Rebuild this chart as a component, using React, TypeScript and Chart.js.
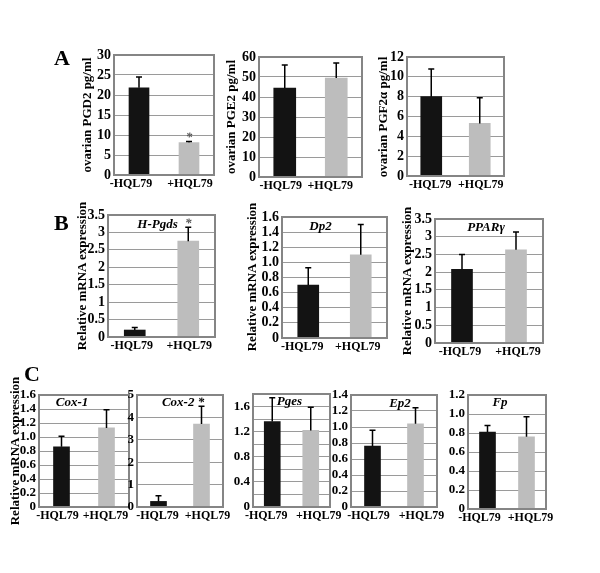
import React, { useEffect, useRef } from 'react';
import { Chart, registerables } from 'chart.js';
Chart.register(...registerables);

const categories = ['-HQL79', '+HQL79'];

// Panel A: ovarian prostaglandin levels (pg/ml)
const pgd2Mean = [21.8, 8.1];
const pgd2Err = [2.7, 0.3];
const pge2Mean = [44.5, 49.5];
const pge2Err = [11.5, 7.5];
const pgf2aMean = [8.0, 5.3];
const pgf2aErr = [2.8, 2.6];

// Panel B: relative mRNA expression
const hpgdsMean = [0.2, 2.75];
const hpgdsErr = [0.07, 0.4];
const dp2Mean = [0.7, 1.1];
const dp2Err = [0.23, 0.4];
const pparMean = [2.08, 2.63];
const pparErr = [0.42, 0.5];

// Panel C: relative mRNA expression
const cox1Mean = [0.86, 1.13];
const cox1Err = [0.15, 0.26];
const cox2Mean = [0.25, 3.7];
const cox2Err = [0.25, 0.8];
const pgesMean = [1.36, 1.22];
const pgesErr = [0.38, 0.37];
const ep2Mean = [0.76, 1.04];
const ep2Err = [0.2, 0.2];
const fpMean = [0.81, 0.76];
const fpErr = [0.07, 0.21];

const yTitlesA = ['ovarian PGD2 pg/ml', 'ovarian PGE2 pg/ml', 'ovarian PGF2\u03b1 pg/ml'];
const yTitleMRNA = 'Relative mRNA expression';

const SERIF = "'Liberation Serif', 'Times New Roman', serif";
const PT = 12;
const PR = 16;
const XH = 22;
const YW = 34;

type Fmt = 'plain' | 'dec1' | 'every2';

type Panel = {
  mean: number[];
  err: number[];
  max: number;
  step: number;
  fmt: Fmt;
  inner?: string;
  innerDx?: number;
  innerDy?: number;
  stars?: string[];
  rect: [number, number, number, number];
  bw: number;
  tick: number;
  xtick: number;
  xdx: [number, number];
};

const panels: Panel[] = [
  { mean: pgd2Mean, err: pgd2Err, max: 30, step: 5, fmt: 'plain', stars: ['', '*'], rect: [114, 55, 214, 175], bw: 20, tick: 14, xtick: 12, xdx: [-8, 1] },
  { mean: pge2Mean, err: pge2Err, max: 60, step: 10, fmt: 'plain', rect: [259, 57, 362, 177], bw: 22, tick: 14, xtick: 12, xdx: [-4, -6] },
  { mean: pgf2aMean, err: pgf2aErr, max: 12, step: 2, fmt: 'plain', rect: [407, 57, 504, 176], bw: 21, tick: 14, xtick: 12, xdx: [-1, 1] },
  { mean: hpgdsMean, err: hpgdsErr, max: 3.5, step: 0.5, fmt: 'plain', inner: 'H-Pgds', innerDx: -4, innerDy: 10, stars: ['', '*'], rect: [108, 215, 215, 337], bw: 21, tick: 14, xtick: 12, xdx: [-3, 1] },
  { mean: dp2Mean, err: dp2Err, max: 1.6, step: 0.2, fmt: 'dec1', inner: 'Dp2', innerDx: -14, innerDy: 10, rect: [282, 217, 387, 338], bw: 21, tick: 14, xtick: 12, xdx: [-6, -3] },
  { mean: pparMean, err: pparErr, max: 3.5, step: 0.5, fmt: 'plain', inner: 'PPAR\u03b3', innerDx: -3, innerDy: 9, rect: [435, 219, 543, 343], bw: 21, tick: 14, xtick: 12, xdx: [-2, 2] },
  { mean: cox1Mean, err: cox1Err, max: 1.6, step: 0.2, fmt: 'dec1', inner: 'Cox-1', innerDx: -12, innerDy: 8, rect: [39, 395, 129, 507], bw: 16, tick: 13, xtick: 12, xdx: [-4, -1] },
  { mean: cox2Mean, err: cox2Err, max: 5, step: 1, fmt: 'plain', inner: 'Cox-2 *', innerDx: 3, innerDy: 8, rect: [137, 395, 223, 507], bw: 16, tick: 13, xtick: 12, xdx: [-1, 6] },
  { mean: pgesMean, err: pgesErr, max: 1.8, step: 0.2, fmt: 'every2', inner: 'Pges', innerDx: -2, innerDy: 8, rect: [253, 394, 330, 507], bw: 16, tick: 13, xtick: 12, xdx: [-6, 8] },
  { mean: ep2Mean, err: ep2Err, max: 1.4, step: 0.2, fmt: 'dec1', inner: 'Ep2', innerDx: 6, innerDy: 9, rect: [351, 395, 437, 507], bw: 16, tick: 13, xtick: 12, xdx: [-4, 6] },
  { mean: fpMean, err: fpErr, max: 1.2, step: 0.2, fmt: 'dec1', inner: 'Fp', innerDx: -7, innerDy: 8, rect: [468, 395, 546, 509], bw: 16, tick: 13, xtick: 12, xdx: [-8, 4] },
];

// rotated y-axis titles: [text, centerX, centerY]
const yTitles: [string, number, number][] = [
  [yTitlesA[0], 87, 115],
  [yTitlesA[1], 231, 117],
  [yTitlesA[2], 383, 117],
  [yTitleMRNA, 82, 276],
  [yTitleMRNA, 252, 277],
  [yTitleMRNA, 407, 281],
  [yTitleMRNA, 15, 451],
];

function fmtTick(v: number, fmt: Fmt): string {
  const r = Math.round(v * 10) / 10;
  if (fmt === 'plain') return String(r);
  if (r === 0) return '0';
  if (fmt === 'every2') {
    const k = Math.round(r * 10);
    return k % 4 === 0 ? r.toFixed(1) : '';
  }
  return r.toFixed(1);
}

function makeDecor(p: Panel) {
  return {
    id: 'decor',
    afterDatasetsDraw(chart: any) {
      const ctx = chart.ctx;
      const area = chart.chartArea;
      const ys = chart.scales.y;
      const xs = chart.scales.x;
      const meta = chart.getDatasetMeta(0);
      ctx.save();
      ctx.strokeStyle = '#000';
      ctx.lineWidth = 1.5;
      meta.data.forEach((el: any, i: number) => {
        const top = ys.getPixelForValue(p.mean[i] + p.err[i]);
        ctx.beginPath();
        ctx.moveTo(el.x, el.y);
        ctx.lineTo(el.x, top);
        ctx.moveTo(el.x - 3, top);
        ctx.lineTo(el.x + 3, top);
        ctx.stroke();
        const s = p.stars ? p.stars[i] : '';
        if (s) {
          ctx.fillStyle = '#555';
          ctx.font = `italic bold 13px ${SERIF}`;
          ctx.textAlign = 'center';
          ctx.textBaseline = 'middle';
          ctx.fillText(s, el.x, top - 4);
        }
      });
      ctx.strokeStyle = '#858585';
      ctx.lineWidth = 2;
      ctx.strokeRect(area.left, area.top, area.right - area.left, area.bottom - area.top);
      if (p.inner) {
        ctx.fillStyle = '#000';
        ctx.font = `italic bold 13px ${SERIF}`;
        ctx.textAlign = 'center';
        ctx.textBaseline = 'middle';
        ctx.fillText(p.inner, (area.left + area.right) / 2 + (p.innerDx || 0), area.top + (p.innerDy || 9));
      }
      // category labels under the frame
      ctx.fillStyle = '#000';
      ctx.font = `bold ${p.xtick}px ${SERIF}`;
      ctx.textAlign = 'center';
      ctx.textBaseline = 'top';
      categories.forEach((c, i) => {
        ctx.fillText(c, xs.getPixelForValue(i) + p.xdx[i], area.bottom + 3);
      });
      ctx.restore();
    },
  };
}

function BarPanel({ p }: { p: Panel }) {
  const ref = useRef<HTMLCanvasElement>(null);
  const [L, T, R, B] = p.rect;
  const left = L - YW;
  const top = T - PT;
  const w = R - L + YW + PR;
  const h = B - T + PT + XH;
  useEffect(() => {
    if (!ref.current) return;
    const chart = new Chart(ref.current, {
      type: 'bar',
      data: {
        labels: categories,
        datasets: [
          {
            data: p.mean,
            backgroundColor: ['#131313', '#bdbdbd'],
            borderWidth: 0,
            barThickness: p.bw,
          },
        ],
      },
      options: {
        animation: false,
        responsive: false,
        devicePixelRatio: 1,
        layout: { padding: { top: PT, right: PR, left: 0, bottom: 0 } },
        plugins: {
          legend: { display: false },
          tooltip: { enabled: false },
          title: { display: false },
        },
        scales: {
          x: {
            grid: { display: false, drawTicks: false },
            border: { display: false },
            ticks: { display: false },
            afterFit: (s: any) => {
              s.height = XH;
            },
          },
          y: {
            min: 0,
            max: p.max,
            grid: { color: '#9a9a9a', lineWidth: 1, drawTicks: false },
            border: { display: false },
            ticks: {
              stepSize: p.step,
              font: { family: SERIF, weight: 'bold', size: p.tick },
              color: '#000',
              padding: 3,
              autoSkip: false,
              callback: (v: any) => fmtTick(Number(v), p.fmt),
            },
            afterFit: (s: any) => {
              s.width = YW;
            },
          },
        },
      },
      plugins: [makeDecor(p)],
    });
    return () => chart.destroy();
  }, []);
  return (
    <canvas
      ref={ref}
      width={w}
      height={h}
      style={{ position: 'absolute', left, top, width: w, height: h }}
    />
  );
}

const letterStyle = (left: number, top: number): React.CSSProperties => ({
  position: 'absolute',
  left,
  top,
  fontFamily: SERIF,
  fontWeight: 'bold',
  fontSize: 22,
  lineHeight: '22px',
  color: '#000',
});

function YTitle({ text, cx, cy }: { text: string; cx: number; cy: number }) {
  return (
    <div
      style={{
        position: 'absolute',
        left: cx,
        top: cy,
        transform: 'translate(-50%, -50%) rotate(-90deg)',
        whiteSpace: 'nowrap',
        fontFamily: SERIF,
        fontWeight: 'bold',
        fontSize: 13,
        lineHeight: '14px',
        color: '#000',
      }}
    >
      {text}
    </div>
  );
}

export default function App() {
  return (
    <div style={{ position: 'absolute', left: 0, top: 0, width: 600, height: 573, background: '#fff', overflow: 'hidden' }}>
      {panels.map((p, i) => (
        <BarPanel key={i} p={p} />
      ))}
      {yTitles.map(([t, x, y], i) => (
        <YTitle key={i} text={t} cx={x} cy={y} />
      ))}
      <div style={letterStyle(54, 47)}>A</div>
      <div style={letterStyle(54, 212)}>B</div>
      <div style={letterStyle(24, 363)}>C</div>
    </div>
  );
}
